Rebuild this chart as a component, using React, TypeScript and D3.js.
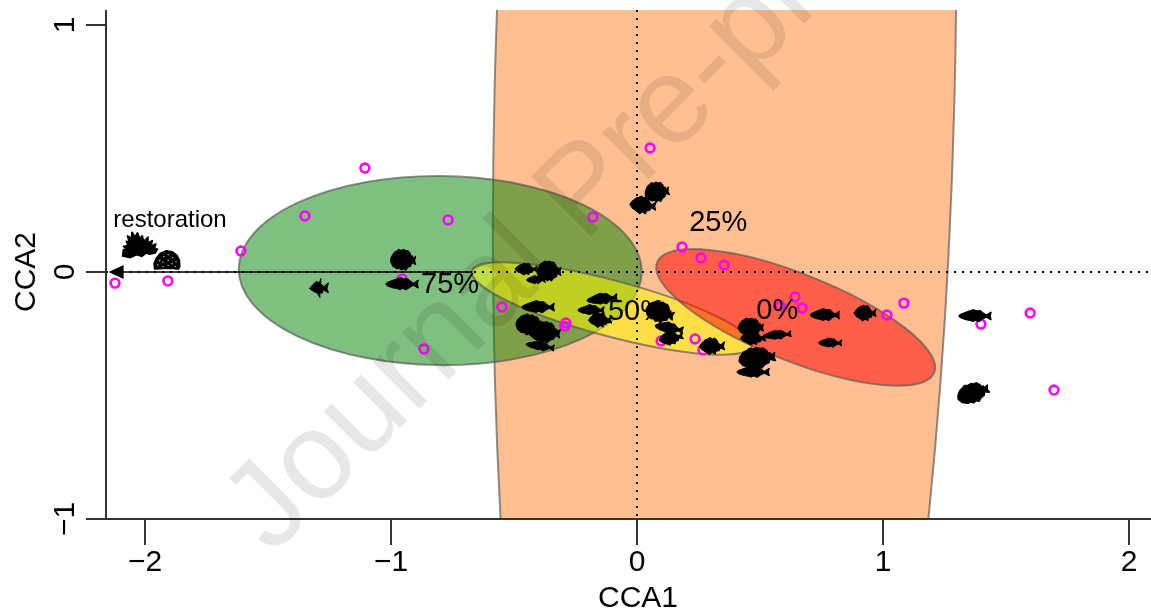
import React from "react";
import * as d3 from "d3";

const WIDTH = 1151;
const HEIGHT = 615;
const FONT = "'Liberation Sans', Arial, sans-serif";

// Site scores (magenta open circles)
const siteCCA1 = [-2.122, -1.907, -1.61, -1.35, -1.106, -0.768, -0.866, -0.955, -0.549, -0.179, -0.293, -0.289, 0.053, 0.098, 0.236, 0.268, 0.183, 0.26, 0.354, 0.581, 0.642, 0.671, 1.016, 1.085, 1.398, 1.598, 1.695];
const siteCCA2 = [-0.045, -0.036, 0.085, 0.227, 0.421, 0.211, -0.312, -0.028, -0.142, 0.223, -0.219, -0.206, 0.502, -0.279, -0.271, -0.316, 0.101, 0.057, 0.028, -0.138, -0.101, -0.146, -0.174, -0.126, -0.211, -0.166, -0.478];

// Species scores (fish silhouettes)
const speciesCCA1 = [-1.293, -0.951, -0.955, 0.081, 0.024, -0.451, -0.358, -0.411, -0.402, -0.142, -0.187, -0.15, -0.435, -0.374, -0.394, 0.093, 0.13, 0.138, 0.305, 0.463, 0.472, 0.569, 0.488, 0.472, 0.764, 0.927, 0.785, 1.374, 1.366];
const speciesCCA2 = [-0.065, 0.049, -0.049, 0.324, 0.271, 0.012, 0.004, -0.032, -0.142, -0.109, -0.154, -0.194, -0.215, -0.243, -0.3, -0.162, -0.227, -0.267, -0.3, -0.223, -0.267, -0.255, -0.348, -0.405, -0.174, -0.166, -0.287, -0.178, -0.49];
const speciesKind = ["angel", "round", "long", "round", "medium", "medium", "round", "long", "long", "long", "long", "medium", "round", "round", "long", "round", "long", "medium", "medium", "round", "medium", "long", "round", "long", "long", "medium", "long", "long", "round"];
const speciesLength = [19, 25, 32, 24, 26, 22, 24, 19, 32, 30, 26, 23, 28, 30, 28, 28, 28, 24, 25, 25, 25, 28, 36, 32, 29, 22, 23, 32, 32];
const speciesDepth = [19, 21, 13, 20, 18, 12, 20, 9, 13, 12, 11, 15, 21, 21, 10, 21, 12, 14, 17, 18, 14, 10, 21, 12, 13, 16, 10, 13, 20];
const speciesTilt = [0, 0, 0, -8, 5, 0, 0, 0, 0, -6, 0, 0, 10, 5, 8, 15, 10, -10, 0, 0, 0, -5, -6, 0, 0, 0, 0, 0, -18];

// Restoration structures
const coralCCA1 = [-2.02, -1.911];
const coralCCA2 = [0.109, 0.049];
const coralKind = ["branch", "boulder"];
const coralLength = [35, 26];
const coralDepth = [26, 19];

// Ordination ellipses, in draw order
const ellipseNames = ["25%", "75%", "50%", "0%"];
const ellipseColors = ["#FF7F24", "#008000", "#FFFF00", "#FF0000"];
const ellipseCCA1 = [0.356, -0.8, -0.102, 0.645];
const ellipseCCA2 = [0.729, 0.006, -0.148, -0.184];
const ellipseAxisX = [0.935, 0.819, 0.589, 0.606];
const ellipseAxisY = [4.69, 0.383, 0.113, 0.176];
const ellipseTilt = [1.41, 0.5, 15, 21.7];

// Level labels
const labelNames = ["75%", "25%", "50%", "0%"];
const labelCCA1 = [-0.76, 0.33, 0, 0.57];
const labelCCA2 = [-0.055, 0.195, -0.165, -0.16];

const xTicks = [-2, -1, 0, 1, 2];
const yTicks = [-1, 0, 1];

const arrowTip = [-2.148, 0];
const arrowBase = [-0.67, 0];

const x = d3.scaleLinear().domain([-2, 2]).range([145, 1129]);
const y = d3.scaleLinear().domain([-1, 1]).range([519, 25]);

const PLOT_LEFT = 106;
const PLOT_TOP = 10;
const PLOT_BOTTOM = 519;

const GLYPHS: Record<string, string> = {
  long: "M-1,.02 L-.9,-.28 L-.55,-.62 L-.35,-.8 L-.1,-1 L.12,-.82 L.32,-.85 L.52,-.45 L.72,-.12 L1,-.62 L.94,0 L1,.62 L.72,.2 L.45,.52 L.25,.9 L.05,.66 L-.12,.85 L-.3,.72 L-.6,.58 L-.88,.32 Z",
  medium: "M-1,.05 L-.85,-.3 L-.55,-.72 L-.35,-.85 L-.15,-1 L.02,-.8 L.18,-.95 L.35,-.75 L.48,-.4 L.68,-.1 L1,-.5 L.9,0 L1,.45 L.66,.2 L.55,.55 L.3,.62 L.25,.95 L0,.75 L-.2,1 L-.45,.72 L-.75,.48 Z",
  round: "M-1,.15 L-.94,-.25 L-.72,-.68 L-.5,-.85 L-.35,-1 L-.15,-.9 L.05,-1 L.2,-.88 L.38,-.9 L.56,-.62 L.64,-.3 L.74,-.38 L.76,-.12 L1,-.34 L.92,.08 L1,.44 L.68,.25 L.62,.58 L.38,.72 L.2,1 L.02,.82 L-.12,.98 L-.3,.8 L-.5,.84 L-.82,.58 Z",
  angel: "M-1,.05 L-.55,-.45 L-.25,-.7 L.05,-.55 L.2,-1 L.2,-.45 L.5,-.15 L1,-.55 L.85,.05 L1,.5 L.45,.2 L.35,.55 L.1,.5 L.1,1 L-.15,.55 L-.5,.4 Z",
  branch: "M-1,.85 L-.95,.35 L-.8,.28 L-.95,.1 L-.7,.02 L-.78,-.3 L-.62,-.25 L-.72,-.72 L-.5,-.5 L-.46,-1 L-.3,-.62 L-.15,-.95 L-.02,-.5 L.12,-.72 L.2,-.28 L.45,-.62 L.45,-.18 L.7,-.35 L.62,.05 L.9,-.1 L.82,.28 L1,.3 L.85,.62 L.55,.72 L.35,.62 L.1,.88 L-.2,.75 L-.55,.98 Z",
  boulder: "M-.95,.98 L-1,.4 L-.82,-.2 L-.5,-.72 L-.05,-1 L.42,-.88 L.78,-.5 L.98,.05 L1,.7 L.9,1 L.2,.9 Z",
};

const BOULDER_DOTS: [number, number][] = [[-.55, .05], [-.25, -.35], [.1, -.55], [.45, -.25], [.7, .2], [-.7, .55], [-.3, .25], [.1, .05], [.4, .4], [-.3, .7], [.1, .6], [.65, .7]];

function Glyph({ kind, cx, cy, w, h, tilt = 0 }: { kind: string; cx: number; cy: number; w: number; h: number; tilt?: number }) {
  return (
    <g transform={`translate(${cx},${cy}) rotate(${tilt}) scale(${w / 2},${h / 2})`}>
      <path d={GLYPHS[kind]} fill="#000" stroke="#000" strokeWidth={0.1} strokeLinejoin="round" />
      {kind === "boulder" &&
        BOULDER_DOTS.map(([a, b], i) => <ellipse key={i} cx={a} cy={b} rx={0.06} ry={0.08} fill="#fff" opacity={0.7} />)}
    </g>
  );
}

export default function App() {
  return (
    <svg
      width={WIDTH}
      height={HEIGHT}
      viewBox={`0 0 ${WIDTH} ${HEIGHT}`}
      style={{ position: "absolute", left: 0, top: 0, background: "#fff", fontFamily: FONT, filter: "blur(0.45px)" }}
    >
      <defs>
        <clipPath id="plot">
          <rect x={PLOT_LEFT} y={PLOT_TOP} width={WIDTH - PLOT_LEFT} height={PLOT_BOTTOM - PLOT_TOP} />
        </clipPath>
      </defs>

      <g clipPath="url(#plot)">
        {ellipseNames.map((name, i) => (
          <ellipse
            key={name}
            transform={`rotate(${ellipseTilt[i]} ${x(ellipseCCA1[i])} ${y(ellipseCCA2[i])})`}
            cx={x(ellipseCCA1[i])}
            cy={y(ellipseCCA2[i])}
            rx={x(ellipseAxisX[i]) - x(0)}
            ry={y(0) - y(ellipseAxisY[i])}
            fill={ellipseColors[i]}
            fillOpacity={0.5}
            stroke="#555"
            strokeOpacity={0.65}
            strokeWidth={2}
          />
        ))}
        <line x1={x(arrowBase[0])} x2={x(arrowTip[0]) + 10} y1={y(0)} y2={y(0)} stroke="#000" strokeWidth={1.6} />
        <path d={`M${x(arrowTip[0])},${y(arrowTip[1])} l15,-7 v14 Z`} fill="#000" />
        <line x1={PLOT_LEFT} x2={WIDTH} y1={y(0)} y2={y(0)} stroke="#000" strokeWidth={2} strokeDasharray="2 6" />
        <line x1={x(0)} x2={x(0)} y1={PLOT_TOP} y2={PLOT_BOTTOM} stroke="#000" strokeWidth={2} strokeDasharray="2 6" />

        {siteCCA1.map((v, i) => (
          <circle key={i} cx={x(v)} cy={y(siteCCA2[i])} r={4.4} fill="none" stroke="#FF00FF" strokeWidth={2.6} />
        ))}
        {speciesCCA1.map((v, i) => (
          <Glyph key={i} kind={speciesKind[i]} cx={x(v)} cy={y(speciesCCA2[i])} w={speciesLength[i]} h={speciesDepth[i]} tilt={speciesTilt[i]} />
        ))}
        {coralCCA1.map((v, i) => (
          <Glyph key={i} kind={coralKind[i]} cx={x(v)} cy={y(coralCCA2[i])} w={coralLength[i]} h={coralDepth[i]} />
        ))}
      </g>

      <text x={170} y={227} fontSize={24} textAnchor="middle" fill="#000">restoration</text>
      {labelNames.map((t, i) => (
        <text key={t} x={x(labelCCA1[i])} y={y(labelCCA2[i])} fontSize={29} textAnchor="middle" dominantBaseline="middle" fill="#000">
          {t}
        </text>
      ))}

      {/* axes */}
      <g stroke="#333" strokeWidth={2} fill="none">
        <line x1={PLOT_LEFT} x2={PLOT_LEFT} y1={PLOT_TOP} y2={PLOT_BOTTOM} />
        <line x1={86} x2={WIDTH} y1={PLOT_BOTTOM} y2={PLOT_BOTTOM} />
        {xTicks.map((t) => (
          <line key={t} x1={x(t)} x2={x(t)} y1={PLOT_BOTTOM} y2={545} />
        ))}
        {yTicks.map((t) => (
          <line key={t} x1={86} x2={PLOT_LEFT} y1={y(t)} y2={y(t)} />
        ))}
      </g>
      {xTicks.map((t) => (
        <text key={t} x={x(t)} y={571} fontSize={30} textAnchor="middle" fill="#000">
          {t < 0 ? `\u2212${-t}` : t}
        </text>
      ))}
      {yTicks.map((t) => (
        <text key={t} transform={`translate(74,${y(t)}) rotate(-90)`} fontSize={30} textAnchor="middle" fill="#000">
          {t < 0 ? `\u2212${-t}` : t}
        </text>
      ))}
      <text x={638} y={607} fontSize={30} textAnchor="middle" fill="#000">CCA1</text>
      <text transform={`translate(35,272) rotate(-90)`} fontSize={30} textAnchor="middle" fill="#000">CCA2</text>

      {/* watermark */}
      <text transform="translate(272,556) rotate(-45)" fontSize={124} fill="#000" fillOpacity={0.095}>
        Journal Pre-proof
      </text>
    </svg>
  );
}
